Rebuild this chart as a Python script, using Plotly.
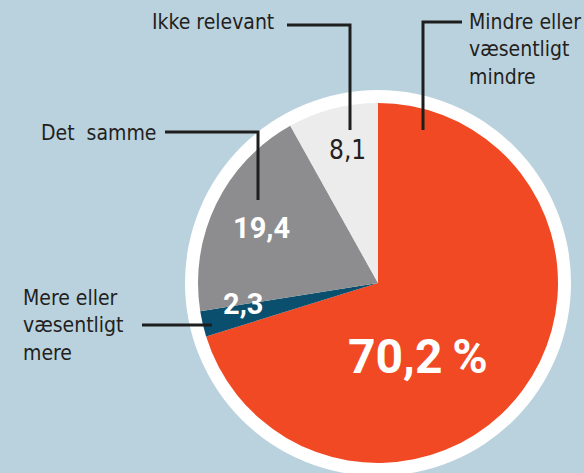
import plotly.graph_objects as go

# Data
categories = ["Mindre eller væsentligt mindre", "Mere eller væsentligt mere", "Det samme", "Ikke relevant"]
label_texts = ["Mindre eller<br>væsentligt<br>mindre", "Mere eller<br>væsentligt<br>mere", "Det  samme", "Ikke relevant"]
values = [70.2, 2.3, 19.4, 8.1]
colors = ["#f04923", "#0b4f6e", "#8d8d8f", "#ececec"]

W, H = 584, 473
BG = "#bad2de"

def px(x):
    return x / W

def py(y):
    return 1 - y / H

cx, cy, r, ring = 378, 283, 180, 193

fig = go.Figure()
fig.add_trace(go.Pie(
    labels=categories,
    values=values,
    sort=False,
    direction="clockwise",
    rotation=0,
    marker=dict(colors=colors, line=dict(width=0)),
    textinfo="none",
    hoverinfo="label+value",
    showlegend=False,
    domain=dict(x=[px(cx - r), px(cx + r)], y=[py(cy + r), py(cy - r)]),
))

def fmt(v):
    return f"{v:.1f}".replace(".", ",")

LBL_FONT = "DejaVu Sans Condensed, Liberation Sans Narrow, sans-serif"
NUM_FONT = "Roboto, DejaVu Sans Condensed, sans-serif"
TXT = "#231f20"

shapes = [
    dict(type="circle", xref="paper", yref="paper", layer="below",
         x0=px(cx - ring), x1=px(cx + ring), y0=py(cy + ring), y1=py(cy - ring),
         fillcolor="white", line=dict(width=0)),
]
line_style = dict(color="#1e1e1e", width=3)
# leader polylines (pixel coords)
paths = [
    [(287, 25), (350, 25), (350, 130)],     # Ikke relevant
    [(462, 22), (423, 22), (423, 130)],     # Mindre eller
    [(165, 132), (258, 132), (258, 200)],   # Det samme
    [(142, 325), (212, 325)],               # Mere eller
]
for pts in paths:
    d = "M " + " L ".join(f"{px(x)},{py(y)}" for x, y in pts)
    shapes.append(dict(type="path", xref="paper", yref="paper", path=d, line=line_style))

annotations = [
    # category labels
    dict(text=label_texts[3], x=px(276), y=py(22), xanchor="right", yanchor="middle", align="right",
         font=dict(family=LBL_FONT, size=21, color=TXT)),
    dict(text=label_texts[0], x=px(467), y=py(8), xanchor="left", yanchor="top", align="left",
         font=dict(family=LBL_FONT, size=21, color=TXT)),
    dict(text=label_texts[2], x=px(39), y=py(133), xanchor="left", yanchor="middle", align="left",
         font=dict(family=LBL_FONT, size=21, color=TXT)),
    dict(text=label_texts[1], x=px(21), y=py(284), xanchor="left", yanchor="top", align="left",
         font=dict(family=LBL_FONT, size=21, color=TXT)),
    # values
    dict(text=fmt(values[0]) + "\u2009%", x=px(418), y=py(356), xanchor="center", yanchor="middle",
         font=dict(family=NUM_FONT, size=48, color="white", weight="bold")),
    dict(text=fmt(values[2]), x=px(261), y=py(228), xanchor="center", yanchor="middle",
         font=dict(family=NUM_FONT, size=29, color="white", weight="bold")),
    dict(text=fmt(values[1]), x=px(243), y=py(304), xanchor="center", yanchor="middle",
         font=dict(family=NUM_FONT, size=29, color="white", weight="bold")),
    dict(text=fmt(values[3]), x=px(347), y=py(150), xanchor="center", yanchor="middle",
         font=dict(family=LBL_FONT, size=26, color=TXT)),
]
for a in annotations:
    a.update(xref="paper", yref="paper", showarrow=False)

fig.update_layout(
    width=W, height=H,
    margin=dict(l=0, r=0, t=0, b=0),
    paper_bgcolor=BG, plot_bgcolor=BG,
    shapes=shapes, annotations=annotations,
)
fig.write_html("out.html", config={"displayModeBar": False},
               post_script="document.body.style.margin='0';document.body.style.background='" + BG + "';")
